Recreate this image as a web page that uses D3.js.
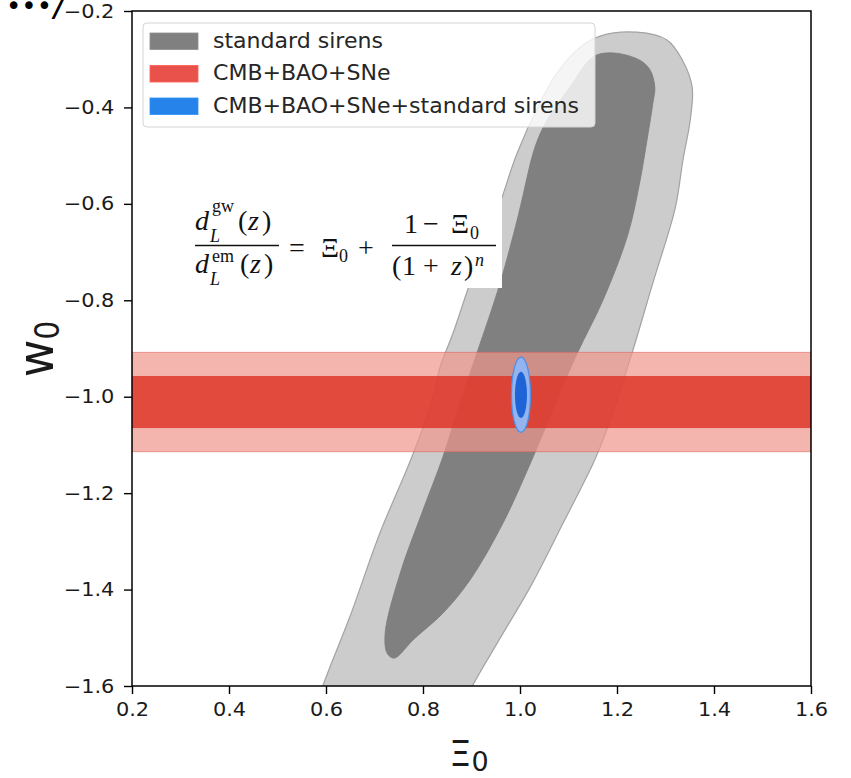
<!DOCTYPE html>
<html>
<head>
<meta charset="utf-8">
<script src="https://cdn.jsdelivr.net/npm/d3@7"></script>
<style>
  html, body { margin: 0; padding: 0; background: #fff; }
  svg { display: block; }
</style>
</head>
<body>
<svg id="chart" width="851" height="778"></svg>
<script>
// Axis ranges and ticks
const xDomain = [0.2, 1.6];
const yDomain = [-1.6, -0.2];
const xTicks = [0.2, 0.4, 0.6, 0.8, 1.0, 1.2, 1.4, 1.6];
const yTicks = [-1.6, -1.4, -1.2, -1.0, -0.8, -0.6, -0.4, -0.2];

// Standard sirens: 95% (outer) and 68% (inner) contours in (Xi0, w0)
const sirensOuter = [
  [0.582, -1.630], [0.592, -1.603], [0.608, -1.561], [0.649, -1.457], [0.711, -1.283],
  [0.777, -1.125], [0.819, -1.007], [0.835, -0.939], [0.862, -0.868], [0.897, -0.764],
  [0.959, -0.598], [0.994, -0.495], [1.041, -0.391], [1.076, -0.329], [1.124, -0.275],
  [1.165, -0.252], [1.241, -0.244], [1.303, -0.260], [1.335, -0.302], [1.355, -0.358],
  [1.351, -0.426], [1.336, -0.509], [1.320, -0.609], [1.274, -0.764], [1.233, -0.903],
  [1.200, -1.007], [1.171, -1.090], [1.151, -1.138], [1.089, -1.262], [1.021, -1.395],
  [0.953, -1.511], [0.903, -1.598], [0.889, -1.630]
];
const sirensInner = [
  [0.738, -1.542], [0.726, -1.532], [0.722, -1.490], [0.753, -1.366], [0.800, -1.235],
  [0.841, -1.125], [0.878, -1.007], [0.911, -0.910], [0.959, -0.764], [0.994, -0.634],
  [1.004, -0.592], [1.031, -0.482], [1.056, -0.426], [1.103, -0.358], [1.151, -0.295],
  [1.192, -0.287], [1.247, -0.302], [1.268, -0.322], [1.278, -0.358], [1.274, -0.391],
  [1.263, -0.461], [1.246, -0.560], [1.222, -0.665], [1.171, -0.800], [1.118, -0.910],
  [1.076, -1.007], [1.027, -1.125], [0.965, -1.262], [0.897, -1.380], [0.841, -1.449],
  [0.779, -1.505], [0.746, -1.540]
];

// CMB+BAO+SNe: w0 constraint independent of Xi0
const bandCenter = -1.011;
const band1Sigma = 0.054;
const band2Sigma = 0.103;

// CMB+BAO+SNe+standard sirens: ellipse centre and semi-axes (Xi0, w0)
const combinedCenter = [1.002, -0.996];
const combinedOuter = [0.0196, 0.078];
const combinedInner = [0.0124, 0.048];

// Legend
const legendLabels = ["standard sirens", "CMB+BAO+SNe", "CMB+BAO+SNe+standard sirens"];
const legendColors = ["#808080", "#e8524a", "#2683ea"];

const svg = d3.select("#chart");
const margin = { left: 132, right: 811, top: 11, bottom: 686 };
const x = d3.scaleLinear(xDomain, [margin.left, margin.right]);
const y = d3.scaleLinear(yDomain, [margin.bottom, margin.top]);

svg.append("defs").append("clipPath").attr("id", "plotClip")
  .append("rect")
  .attr("x", margin.left).attr("y", margin.top)
  .attr("width", margin.right - margin.left).attr("height", margin.bottom - margin.top);

const plot = svg.append("g").attr("clip-path", "url(#plotClip)");

// Standard sirens contours
const contourLine = d3.line().x(d => x(d[0])).y(d => y(d[1])).curve(d3.curveCatmullRomClosed.alpha(0.5));
plot.append("path").attr("d", contourLine(sirensOuter))
  .attr("fill", "#cccccc").attr("stroke", "#a3a3a3").attr("stroke-width", 1.2);
plot.append("path").attr("d", contourLine(sirensInner))
  .attr("fill", "#808080").attr("stroke", "#7a7a7a").attr("stroke-width", 0.8);

// CMB+BAO+SNe band
plot.append("rect")
  .attr("x", x(xDomain[0])).attr("width", x(xDomain[1]) - x(xDomain[0]))
  .attr("y", y(bandCenter + band2Sigma))
  .attr("height", y(bandCenter - band2Sigma) - y(bandCenter + band2Sigma))
  .attr("fill", "#f0968c").attr("fill-opacity", 0.7)
  .attr("stroke", "#e0665a").attr("stroke-opacity", 0.6).attr("stroke-width", 1);
plot.append("rect")
  .attr("x", x(xDomain[0])).attr("width", x(xDomain[1]) - x(xDomain[0]))
  .attr("y", y(bandCenter + band1Sigma))
  .attr("height", y(bandCenter - band1Sigma) - y(bandCenter + band1Sigma))
  .attr("fill", "#de3226").attr("fill-opacity", 0.82);

// Combined constraint ellipses
function ellipse(center, radii) {
  return plot.append("ellipse")
    .attr("cx", x(center[0])).attr("cy", y(center[1]))
    .attr("rx", x(center[0] + radii[0]) - x(center[0]))
    .attr("ry", y(center[1]) - y(center[1] + radii[1]));
}
ellipse(combinedCenter, combinedOuter)
  .attr("fill", "#94b4ef").attr("stroke", "#4d8fe9").attr("stroke-width", 1.3);
ellipse(combinedCenter, combinedInner)
  .attr("fill", "#1e64d6");

// Axes
const tickFont = "'DejaVu Sans', sans-serif";
const xAxis = svg.append("g").attr("transform", `translate(0,${margin.bottom})`)
  .call(d3.axisBottom(x).tickValues(xTicks).tickFormat(d3.format(".1f"))
    .tickSize(8).tickPadding(9).tickSizeOuter(0));
const yAxis = svg.append("g").attr("transform", `translate(${margin.left},0)`)
  .call(d3.axisLeft(y).tickValues(yTicks).tickFormat(d3.format(".1f"))
    .tickSize(8).tickPadding(8).tickSizeOuter(0));
[xAxis, yAxis].forEach(g => {
  g.select(".domain").remove();
  g.selectAll(".tick line").attr("stroke", "#000").attr("stroke-width", 1.4);
  g.selectAll(".tick text").attr("fill", "#1a1a1a")
    .style("font-family", tickFont).style("font-size", "19px");
});
xAxis.selectAll(".tick text").attr("transform", "scale(1.1,1)");
yAxis.selectAll(".tick text").attr("transform", "scale(1.1,1)");

// Frame
svg.append("rect")
  .attr("x", margin.left).attr("y", margin.top)
  .attr("width", margin.right - margin.left).attr("height", margin.bottom - margin.top)
  .attr("fill", "none").attr("stroke", "#000").attr("stroke-width", 1.5);

// Axis labels
const xl = svg.append("text").attr("x", 469).attr("y", 766)
  .attr("text-anchor", "middle").attr("fill", "#1a1a1a")
  .style("font-family", tickFont).style("font-size", "35px");
xl.append("tspan").text("Ξ");
xl.append("tspan").attr("dy", 5).style("font-size", "27px").text("0");

const yl = svg.append("text")
  .attr("transform", "translate(53,349) rotate(-90) scale(1,1.1)")
  .attr("text-anchor", "middle").attr("fill", "#1a1a1a")
  .style("font-family", tickFont).style("font-size", "46px");
yl.append("tspan").text("w");
yl.append("tspan").attr("dy", 5).style("font-size", "30px").text("0");

// Legend
const legend = svg.append("g");
legend.append("rect")
  .attr("x", 143).attr("y", 23).attr("width", 452).attr("height", 104)
  .attr("rx", 4).attr("fill", "#fff").attr("fill-opacity", 0.8)
  .attr("stroke", "#d4d4d4").attr("stroke-width", 1);
legendLabels.forEach((label, i) => {
  const cy = 41 + i * 32.5;
  legend.append("rect")
    .attr("x", 150).attr("y", cy - 8).attr("width", 48).attr("height", 16.5)
    .attr("fill", legendColors[i]).attr("stroke", d3.color(legendColors[i]).brighter(0.3)).attr("stroke-width", 0.8);
  legend.append("text")
    .attr("transform", `translate(213,${cy + 6.5}) scale(1.05,1)`)
    .attr("fill", "#262626")
    .style("font-family", tickFont).style("font-size", "21px")
    .text(label);
});

// Relation between gravitational-wave and electromagnetic luminosity distances
const eq = svg.append("g").style("font-family", "'Liberation Serif', 'DejaVu Serif', serif").attr("fill", "#111");
eq.append("rect").attr("x", 165).attr("y", 195).attr("width", 337).attr("height", 93).attr("fill", "#fff");
function glyph(txt, gx, gy, size, italic) {
  eq.append("text").attr("x", gx).attr("y", gy)
    .style("font-size", size + "px").style("font-style", italic ? "italic" : "normal")
    .text(txt);
}
const big = 28, small = 18;
// first fraction: numerator
glyph("d", 195, 230, big, true);
glyph("gw", 212, 212, small, false);
glyph("L", 210, 242, small, true);
glyph("(", 238, 230, big, false);
glyph("z", 248, 230, big, true);
glyph(")", 262, 230, big, false);
// denominator
glyph("d", 195, 273, big, true);
glyph("em", 212, 262, small, false);
glyph("L", 210, 285, small, true);
glyph("(", 240, 273, big, false);
glyph("z", 250, 273, big, true);
glyph(")", 264, 273, big, false);
eq.append("line").attr("x1", 195).attr("x2", 279).attr("y1", 245.5).attr("y2", 245.5)
  .attr("stroke", "#111").attr("stroke-width", 1.3);
// = Xi0 +
glyph("=", 289, 257, big, false);
glyph("Ξ", 321, 257, big, false);
glyph("0", 339, 262, small, false);
glyph("+", 358, 257, big, false);
// second fraction
glyph("1", 404, 233, big, false);
glyph("−", 423, 233, big, false);
glyph("Ξ", 451, 233, big, false);
glyph("0", 470, 239, small, false);
eq.append("line").attr("x1", 392).attr("x2", 496).attr("y1", 245.5).attr("y2", 245.5)
  .attr("stroke", "#111").attr("stroke-width", 1.3);
glyph("(", 392, 275, big, false);
glyph("1", 402, 275, big, false);
glyph("+", 423, 275, big, false);
glyph("z", 451, 275, big, true);
glyph(")", 464, 275, big, false);
glyph("n", 475, 266, small, true);

// Leftover heading fragment at the top-left corner
const frag = svg.append("text").attr("x", 6).attr("y", 15)
  .style("font-family", tickFont).attr("fill", "#000");
frag.append("tspan").style("font-size", "26px").text("•••");
frag.append("tspan").attr("dx", 2).attr("dy", 2).style("font-size", "26px")
  .style("font-weight", "bold").style("font-style", "italic").text("/");
</script>
</body>
</html>
